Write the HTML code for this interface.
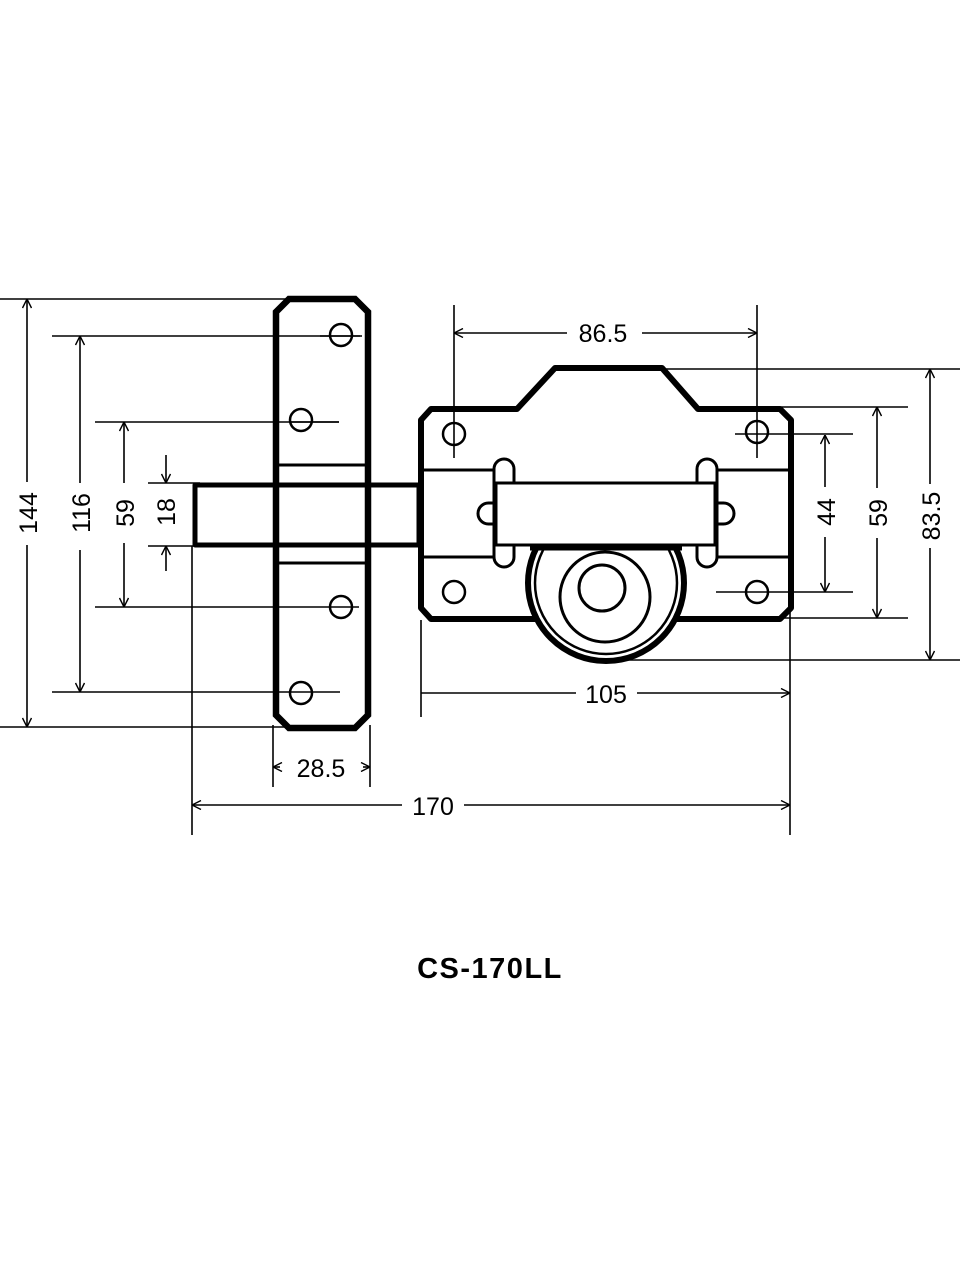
<!DOCTYPE html>
<html><head><meta charset="utf-8"><style>
html,body{margin:0;padding:0;background:#fff;}
svg{display:block;}
text{font-family:"Liberation Sans",sans-serif;}
</style></head><body>
<svg width="960" height="1280" viewBox="0 0 960 1280" xmlns="http://www.w3.org/2000/svg">
<defs>
<marker id="a" viewBox="0 0 10 10" refX="10" refY="5" markerWidth="10" markerHeight="10" markerUnits="userSpaceOnUse" orient="auto-start-reverse">
<path d="M1,0.5 L10,5 L1,9.5" fill="none" stroke="#000" stroke-width="1.4"/>
</marker>
</defs>
<rect width="960" height="1280" fill="#fff"/>

<g stroke="#000" stroke-width="1.6" fill="none">
<line x1="0" y1="299" x2="290" y2="299"/>
<line x1="0" y1="727" x2="290" y2="727"/>
<line x1="52" y1="336" x2="360" y2="336"/>
<line x1="52" y1="692" x2="340" y2="692"/>
<line x1="95" y1="422" x2="339" y2="422"/>
<line x1="95" y1="607" x2="359" y2="607"/>
<line x1="148" y1="483" x2="200" y2="483"/>
<line x1="148" y1="546" x2="200" y2="546"/>
<line x1="192" y1="546" x2="192" y2="835"/>
<line x1="273" y1="725" x2="273" y2="787"/>
<line x1="370" y1="725" x2="370" y2="787"/>
<line x1="421" y1="620" x2="421" y2="717"/>
<line x1="790" y1="612" x2="790" y2="835"/>
<line x1="454" y1="305" x2="454" y2="447"/>
<line x1="757" y1="305" x2="757" y2="447"/>
<line x1="440" y1="434" x2="468" y2="434"/>
<line x1="735" y1="434" x2="853" y2="434"/>
<line x1="745" y1="592" x2="853" y2="592"/>
<line x1="660" y1="369" x2="960" y2="369"/>
<line x1="780" y1="407" x2="908" y2="407"/>
<line x1="780" y1="618" x2="908" y2="618"/>
<line x1="606" y1="660" x2="960" y2="660"/>
</g>

<g stroke="#000" stroke-width="1.6" fill="none">
<line x1="27" y1="299" x2="27" y2="482" marker-start="url(#a)"/>
<line x1="27" y1="545" x2="27" y2="727" marker-end="url(#a)"/>
<line x1="80" y1="336" x2="80" y2="483" marker-start="url(#a)"/>
<line x1="80" y1="550" x2="80" y2="692" marker-end="url(#a)"/>
<line x1="124" y1="422" x2="124" y2="483" marker-start="url(#a)"/>
<line x1="124" y1="543" x2="124" y2="607" marker-end="url(#a)"/>
<line x1="166" y1="455" x2="166" y2="483" marker-end="url(#a)"/>
<line x1="166" y1="571" x2="166" y2="546" marker-end="url(#a)"/>
<line x1="825" y1="435" x2="825" y2="487" marker-start="url(#a)"/>
<line x1="825" y1="537" x2="825" y2="592" marker-end="url(#a)"/>
<line x1="877" y1="407" x2="877" y2="488" marker-start="url(#a)"/>
<line x1="877" y1="538" x2="877" y2="618" marker-end="url(#a)"/>
<line x1="930" y1="369" x2="930" y2="484" marker-start="url(#a)"/>
<line x1="930" y1="548" x2="930" y2="660" marker-end="url(#a)"/>
<line x1="454" y1="333" x2="567" y2="333" marker-start="url(#a)"/>
<line x1="642" y1="333" x2="757" y2="333" marker-end="url(#a)"/>
<line x1="421" y1="693" x2="576" y2="693"/>
<line x1="637" y1="693" x2="790" y2="693" marker-end="url(#a)"/>
<line x1="273" y1="767" x2="280" y2="767" marker-start="url(#a)"/>
<line x1="363" y1="767" x2="370" y2="767" marker-end="url(#a)"/>
<line x1="192" y1="805" x2="402" y2="805" marker-start="url(#a)"/>
<line x1="464" y1="805" x2="790" y2="805" marker-end="url(#a)"/>
</g>

<g font-size="25" fill="#000" text-anchor="middle">
<text transform="translate(37,513) rotate(-90)">144</text>
<text transform="translate(90,513) rotate(-90)">116</text>
<text transform="translate(134,513) rotate(-90)">59</text>
<text transform="translate(175,512) rotate(-90)">18</text>
<text transform="translate(835,512) rotate(-90)">44</text>
<text transform="translate(887,513) rotate(-90)">59</text>
<text transform="translate(940,516) rotate(-90)">83.5</text>
<text x="603" y="342">86.5</text>
<text x="606" y="703">105</text>
<text x="321" y="777">28.5</text>
<text x="433" y="815">170</text>
</g>

<rect x="195" y="485" width="224" height="60" fill="#fff" stroke="#000" stroke-width="5" stroke-linejoin="round"/>

<path d="M289,299 L355,299 L368,312 L368,715 L355,728 L289,728 L276,715 L276,312 Z" fill="none" stroke="#000" stroke-width="6.5"/>
<line x1="276" y1="485" x2="368" y2="485" stroke="#000" stroke-width="5"/>
<line x1="276" y1="545" x2="368" y2="545" stroke="#000" stroke-width="5"/>
<line x1="278" y1="465" x2="366" y2="465" stroke="#000" stroke-width="3"/>
<line x1="278" y1="563" x2="366" y2="563" stroke="#000" stroke-width="3"/>
<g fill="none" stroke="#000" stroke-width="2.5">
<circle cx="341" cy="335" r="11"/>
<circle cx="301" cy="420" r="11"/>
<circle cx="341" cy="607" r="11"/>
<circle cx="301" cy="693" r="11"/>
</g>
<line x1="320" y1="336" x2="362" y2="336" stroke="#000" stroke-width="1.6"/>
<line x1="290" y1="422" x2="339" y2="422" stroke="#000" stroke-width="1.6"/>

<path d="M431,409 L517,409 L555,368 L662,368 L698,409 L780,409 L791,420 L791,608 L780,619 L431,619 L421,608 L421,420 Z" fill="#fff" stroke="#000" stroke-width="6" stroke-linejoin="round"/>
<g stroke="#000" stroke-width="3">
<line x1="424" y1="470" x2="496" y2="470"/>
<line x1="715" y1="470" x2="788" y2="470"/>
<line x1="424" y1="557" x2="496" y2="557"/>
<line x1="715" y1="557" x2="788" y2="557"/>
</g>
<g fill="none" stroke="#000" stroke-width="2.5">
<circle cx="454" cy="434" r="11"/>
<circle cx="757" cy="432" r="11"/>
<circle cx="454" cy="592" r="11"/>
<circle cx="757" cy="592" r="11"/>
</g>
<line x1="454" y1="410" x2="454" y2="458" stroke="#000" stroke-width="1.6"/>
<line x1="757" y1="410" x2="757" y2="458" stroke="#000" stroke-width="1.6"/>
<line x1="735" y1="434" x2="790" y2="434" stroke="#000" stroke-width="1.6"/>
<line x1="716" y1="592" x2="790" y2="592" stroke="#000" stroke-width="1.6"/>

<circle cx="606" cy="583" r="78" fill="#fff" stroke="#000" stroke-width="6"/>
<circle cx="606" cy="583" r="71" fill="none" stroke="#000" stroke-width="2.5"/>
<circle cx="605" cy="597" r="45" fill="none" stroke="#000" stroke-width="3"/>
<circle cx="602" cy="588" r="23" fill="none" stroke="#000" stroke-width="3"/>

<g fill="#fff" stroke="#000" stroke-width="3">
<rect x="478" y="503" width="30" height="21" rx="10.5"/>
<rect x="704" y="503" width="30" height="21" rx="10.5"/>
<rect x="494" y="459" width="20" height="108" rx="10"/>
<rect x="697" y="459" width="20" height="108" rx="10"/>
</g>
<rect x="496" y="483" width="219" height="62" fill="#fff" stroke="#000" stroke-width="3"/>
<line x1="530" y1="547" x2="682" y2="547" stroke="#000" stroke-width="7"/>

<text x="490" y="978" font-size="29" font-weight="bold" text-anchor="middle" letter-spacing="1.5" font-family="Liberation Sans, sans-serif">CS-170LL</text>
</svg>
</body></html>
